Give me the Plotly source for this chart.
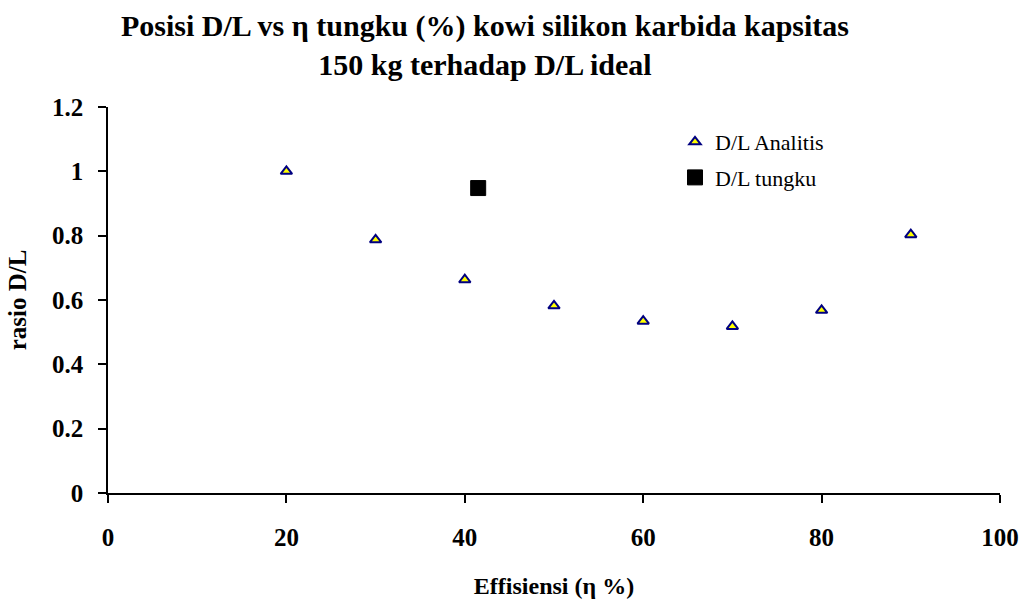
import plotly.graph_objects as go

eff_analitis = [20, 30, 40, 50, 60, 70, 80, 90]
dl_analitis = [1.0, 0.787, 0.663, 0.582, 0.534, 0.518, 0.568, 0.803]
eff_tungku = [41.5]
dl_tungku = [0.948]

x_ticks = [0, 20, 40, 60, 80, 100]
y_ticks = [0, 0.2, 0.4, 0.6, 0.8, 1, 1.2]
y_tick_text = ["0", "0.2", "0.4", "0.6", "0.8", "1", "1.2"]

font_family = "Liberation Serif, Times New Roman, serif"

fig = go.Figure()
fig.add_trace(go.Scatter(
    x=eff_analitis, y=dl_analitis, mode="markers", name="D/L Analitis",
    legendgroup="a",
    marker=dict(symbol="triangle-up", size=10, color="#FFFF00",
                line=dict(color="#000080", width=2)),
))
fig.add_trace(go.Scatter(
    x=eff_tungku, y=dl_tungku, mode="markers", name="D/L tungku",
    legendgroup="b",
    marker=dict(symbol="square", size=15, color="black",
                line=dict(color="black", width=1)),
))

fig.update_layout(
    width=1021, height=603,
    paper_bgcolor="white", plot_bgcolor="white",
    margin=dict(l=108, r=21, t=107, b=110, autoexpand=False),
    font=dict(family=font_family, color="black"),
    title=dict(
        text="<b>Posisi D/L vs η tungku (%) kowi silikon karbida kapsitas<br>150 kg terhadap D/L ideal</b>",
        x=0.475, xanchor="center", xref="container",
        y=1 - 36 / 603, yanchor="middle", yref="container",
        font=dict(size=30, family=font_family, color="black"),
    ),
    showlegend=True,
    legend=dict(
        x=(675 - 108) / 892, y=(493 - 121) / 386, xanchor="left", yanchor="top",
        bgcolor="rgba(0,0,0,0)", borderwidth=0,
        font=dict(size=22, family=font_family, color="black"),
        itemwidth=30, tracegroupgap=4,
    ),
)
fig.update_xaxes(
    range=[0, 100], tickvals=x_ticks, ticktext=[str(v) for v in x_ticks],
    showgrid=False, zeroline=False, showline=True, linecolor="black", linewidth=1.5,
    ticks="outside", ticklen=8, tickcolor="black", tickwidth=1.5,
    ticklabelstandoff=13, automargin=False,
    tickfont=dict(size=25, family=font_family, color="black", weight="bold"),
    title=dict(text="<b>Effisiensi (η %)</b>", standoff=27,
               font=dict(size=24, family=font_family, color="black")),
)
fig.update_yaxes(
    range=[0, 1.2], tickvals=y_ticks, ticktext=y_tick_text,
    showgrid=False, zeroline=False, showline=True, linecolor="black", linewidth=1.5,
    ticks="outside", ticklen=8, tickcolor="black", tickwidth=1.5,
    ticklabelstandoff=10, automargin=False,
    tickfont=dict(size=25, family=font_family, color="black", weight="bold"),
    title=dict(text="<b>rasio D/L</b>", standoff=18,
               font=dict(size=25, family=font_family, color="black")),
)

fig.write_html("out.html", config={"displayModeBar": False},
               post_script="document.body.style.margin='0';")
